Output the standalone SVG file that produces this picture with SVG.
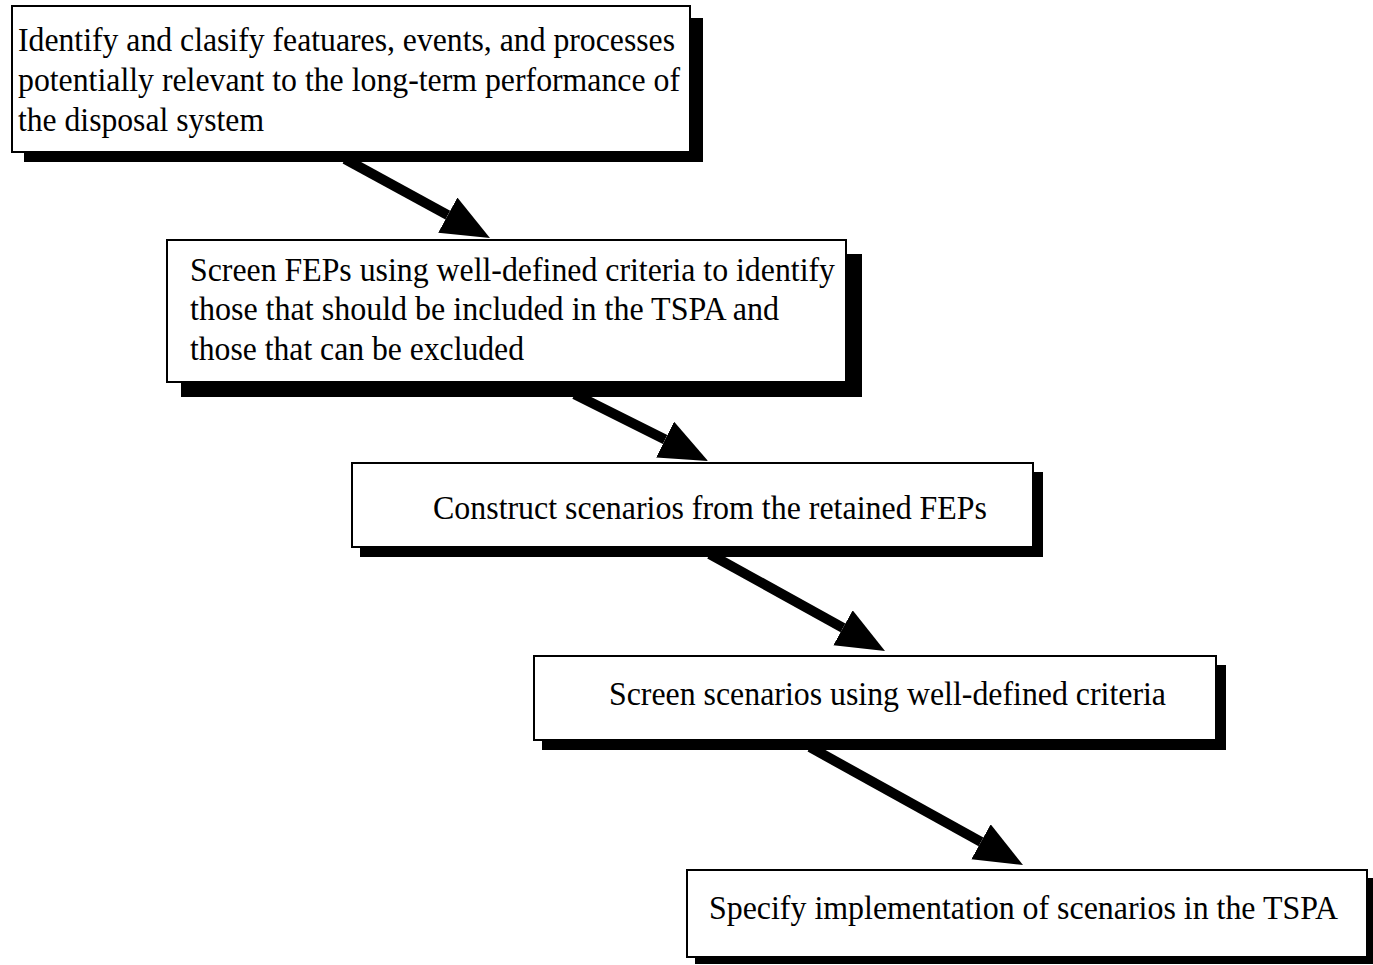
<svg xmlns="http://www.w3.org/2000/svg" width="1373" height="965" viewBox="0 0 1373 965">
<defs>
<style>
.shadow{fill:#000}
.box{fill:#fff;stroke:#000;stroke-width:2}
.t{font-family:"Liberation Serif","Times New Roman",serif;font-size:33px;fill:#000}
.arr{stroke:#000;stroke-width:10;fill:none}
</style>
<marker id="head" markerUnits="userSpaceOnUse" markerWidth="50" markerHeight="42" refX="0" refY="20" orient="auto">
<path d="M0,0 L48,20 L0,40 Z" fill="#000"/>
</marker>
</defs>
<rect width="1373" height="965" fill="#fff"/>
<g id="connectors">
<line class="arr" x1="345" y1="159" x2="447.8" y2="215.1" marker-end="url(#head)"/>
<line class="arr" x1="574.6" y1="394.3" x2="665.1" y2="439.5" marker-end="url(#head)"/>
<line class="arr" x1="709.7" y1="554.1" x2="843" y2="627.8" marker-end="url(#head)"/>
<line class="arr" x1="810" y1="747.2" x2="981" y2="841.8" marker-end="url(#head)"/>
</g>
<g id="node1">
<rect class="shadow" x="24" y="18" width="679" height="144"/>
<rect class="box" x="12" y="6" width="678" height="146"/>
<text class="t" x="18" y="51" textLength="657" lengthAdjust="spacingAndGlyphs">Identify and clasify featuares, events, and processes</text>
<text class="t" x="18" y="91" textLength="662" lengthAdjust="spacingAndGlyphs">potentially relevant to the long-term performance of</text>
<text class="t" x="18" y="131" textLength="246" lengthAdjust="spacingAndGlyphs">the disposal system</text>
</g>
<g id="node2">
<rect class="shadow" x="181" y="254" width="681" height="143"/>
<rect class="box" x="167" y="240" width="679" height="142"/>
<text class="t" x="190" y="281" textLength="645" lengthAdjust="spacingAndGlyphs">Screen FEPs using well-defined criteria to identify</text>
<text class="t" x="190" y="320" textLength="589" lengthAdjust="spacingAndGlyphs">those that should be included in the TSPA and</text>
<text class="t" x="190" y="360" textLength="334" lengthAdjust="spacingAndGlyphs">those that can be excluded</text>
</g>
<g id="node3">
<rect class="shadow" x="360" y="472" width="683" height="85"/>
<rect class="box" x="352" y="463" width="681" height="84"/>
<text class="t" x="433" y="519" textLength="554" lengthAdjust="spacingAndGlyphs">Construct scenarios from the retained FEPs</text>
</g>
<g id="node4">
<rect class="shadow" x="542" y="665" width="684" height="85"/>
<rect class="box" x="534" y="656" width="682" height="84"/>
<text class="t" x="609" y="705" textLength="557" lengthAdjust="spacingAndGlyphs">Screen scenarios using well-defined criteria</text>
</g>
<g id="node5">
<rect class="shadow" x="695" y="878" width="678" height="86"/>
<rect class="box" x="687" y="870" width="680" height="87"/>
<text class="t" x="709" y="919" textLength="629" lengthAdjust="spacingAndGlyphs">Specify implementation of scenarios in the TSPA</text>
</g>
</svg>
